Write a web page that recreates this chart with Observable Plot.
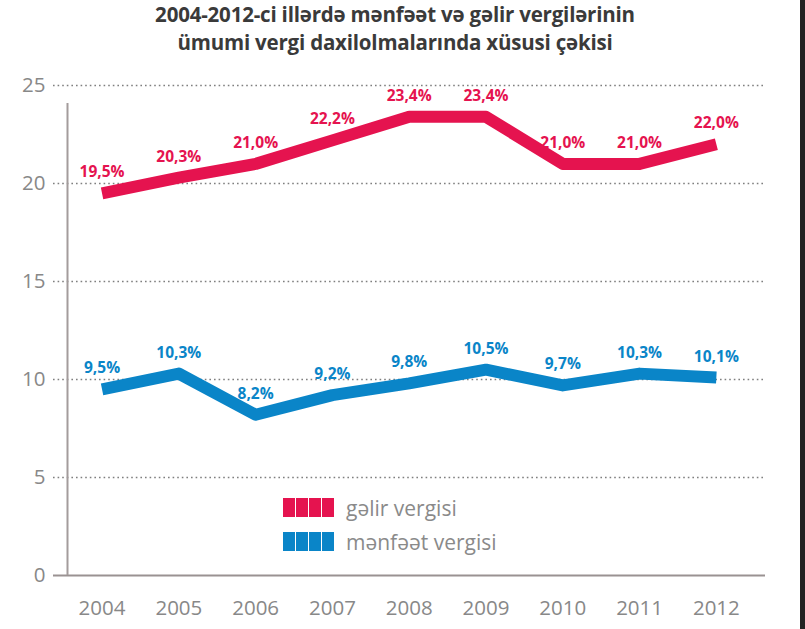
<!DOCTYPE html>
<html><head><meta charset="utf-8">
<script src="https://cdn.jsdelivr.net/npm/d3@7"></script>
<script src="https://cdn.jsdelivr.net/npm/@observablehq/plot@0.6"></script>
<style>
body{margin:0;background:#fff;width:805px;height:629px;overflow:hidden;position:relative;font-family:"Open Sans",sans-serif}
#title{position:absolute;left:0;top:0;width:790px;text-align:center;font-weight:700;font-size:20.5px;line-height:28px;color:#3a3a3a;letter-spacing:-0.2px}
#chart{position:absolute;left:0;top:62px}
.leg{position:absolute;display:flex;align-items:center;font-size:21px;color:#8a8a8a}
.sw{width:52px;height:19px;margin-right:11px}
#edge{position:absolute;left:800px;top:0;width:5px;height:629px;background:#222}
</style>
</head><body>
<div id="title"></div>
<div id="chart"></div>
<div id="legend"></div>
<div id="edge"></div>
<script>
const titleLines = ["2004-2012-ci illərdə mənfəət və gəlir vergilərinin", "ümumi vergi daxilolmalarında xüsusi çəkisi"];
const years = [2004, 2005, 2006, 2007, 2008, 2009, 2010, 2011, 2012];
const galirVergisi = [19.5, 20.3, 21.0, 22.2, 23.4, 23.4, 21.0, 21.0, 22.0];
const menfeetVergisi = [9.5, 10.3, 8.2, 9.2, 9.8, 10.5, 9.7, 10.3, 10.1];
const seriesNames = ["gəlir vergisi", "mənfəət vergisi"];
const seriesColors = ["#e5134f", "#0a85c8"];
const yTicks = [0, 5, 10, 15, 20, 25];

document.getElementById("title").innerHTML = titleLines.join("<br>");

const rows = [];
years.forEach((yr, i) => {
  rows.push({year: yr, value: galirVergisi[i], series: seriesNames[0]});
  rows.push({year: yr, value: menfeetVergisi[i], series: seriesNames[1]});
});
const fmt = v => v.toFixed(1).replace(".", ",") + "%";
const xDomain = [2003.55, 2012.64];

const chart = Plot.plot({
  width: 805,
  height: 567,
  marginLeft: 67,
  marginRight: 40,
  marginTop: 23,
  marginBottom: 54,
  style: {fontFamily: "Open Sans, sans-serif", background: "transparent"},
  x: {domain: xDomain, axis: null},
  y: {domain: [0, 25], axis: null},
  color: {domain: seriesNames, range: seriesColors},
  marks: [
    Plot.ruleY(yTicks.filter(t => t > 0), {stroke: "#7f7f7f", strokeWidth: 1.6, strokeDasharray: "1.6,3", insetLeft: -14, insetRight: 0}),
    Plot.ruleY([0], {stroke: "#9a9292", strokeWidth: 2, insetLeft: -14}),
    Plot.ruleX([xDomain[0]], {y1: 0, y2: 25, stroke: "#a39c9c", strokeWidth: 2, insetBottom: -18}),
    Plot.axisY({ticks: yTicks, tickSize: 0, tickPadding: 22, fontSize: 20.5, color: "#888", label: null, tickFormat: d => String(d)}),
    Plot.axisX({ticks: years, tickSize: 0, tickPadding: 25, fontSize: 20.5, color: "#888", label: null, tickFormat: d => String(d)}),
    Plot.line(rows, {x: "year", y: "value", z: "series", stroke: "series", strokeWidth: 12, strokeLinejoin: "round", strokeLinecap: "butt"}),
    Plot.text(rows, {x: "year", y: "value", text: d => fmt(d.value), fill: "series", dy: -21, fontSize: 15.5, fontWeight: 700})
  ]
});
document.getElementById("chart").appendChild(chart);

const legend = document.getElementById("legend");
const legTops = [498, 532];
seriesNames.forEach((name, i) => {
  const div = document.createElement("div");
  div.className = "leg";
  div.style.left = "283px";
  div.style.top = legTops[i] + "px";
  div.style.height = "19px";
  const sw = document.createElement("div");
  sw.className = "sw";
  sw.style.background = `repeating-linear-gradient(90deg, ${seriesColors[i]} 0 12px, rgba(255,255,255,0.35) 12px 13px)`;
  const t = document.createElement("span");
  t.textContent = name;
  div.appendChild(sw);
  div.appendChild(t);
  legend.appendChild(div);
});
</script>
</body></html>
